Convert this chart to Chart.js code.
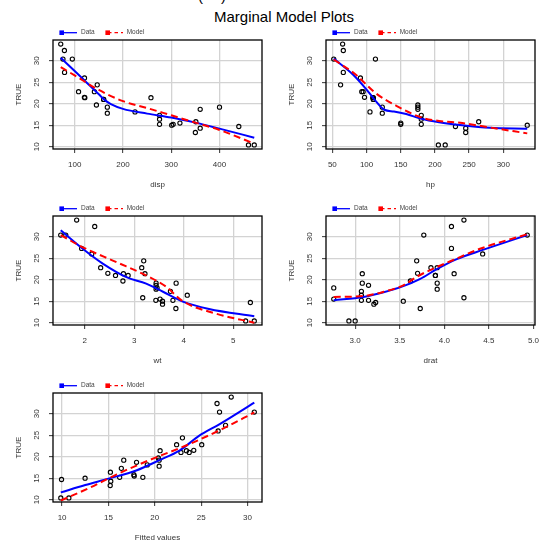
<!DOCTYPE html>
<html>
<head>
<meta charset="utf-8">
<script src="https://cdn.jsdelivr.net/npm/chart.js@4"></script>
<style>
  html, body { margin: 0; padding: 0; background: #fff; overflow: hidden; }
  body { position: relative; width: 542px; height: 545px; font-family: "Liberation Sans", Arial, sans-serif; }
  canvas { position: absolute; }
  .title { position: absolute; font-size: 15px; line-height: 15px; color: #000; white-space: nowrap; }
</style>
</head>
<body>
<div class="title" style="left:198px; top:-12px">(</div>
<div class="title" style="left:221px; top:-12px">)</div>
<div class="title" style="left:184px; top:9px; width:200px; text-align:center">Marginal Model Plots</div>

<canvas id="pDisp" width="271" height="175" style="left:0; top:25px"></canvas>
<canvas id="pHp" width="271" height="175" style="left:273px; top:25px"></canvas>
<canvas id="pWt" width="271" height="175" style="left:0; top:201px"></canvas>
<canvas id="pDrat" width="271" height="175" style="left:273px; top:201px"></canvas>
<canvas id="pFit" width="271" height="175" style="left:0; top:378px"></canvas>

<script>
// response (mpg) and predictors, one entry per car
const mpg = [21.0, 21.0, 22.8, 21.4, 18.7, 18.1, 14.3, 24.4, 22.8, 19.2, 17.8, 16.4, 17.3, 15.2, 10.4, 10.4,
    14.7, 32.4, 30.4, 33.9, 21.5, 15.5, 15.2, 13.3, 19.2, 27.3, 26.0, 30.4, 15.8, 19.7, 15.0, 21.4]
const disp = [160, 160, 108, 258, 360, 225, 360, 146.7, 140.8, 167.6, 167.6, 275.8, 275.8, 275.8, 472, 460,
    440, 78.7, 75.7, 71.1, 120.1, 318, 304, 350, 400, 79, 120.3, 95.1, 351, 145, 301, 121]
const hp = [110, 110, 93, 110, 175, 105, 245, 62, 95, 123, 123, 180, 180, 180, 205, 215,
    230, 66, 52, 65, 97, 150, 150, 245, 175, 66, 91, 113, 264, 175, 335, 109]
const wt = [2.62, 2.875, 2.32, 3.215, 3.44, 3.46, 3.57, 3.19, 3.15, 3.44, 3.44, 4.07, 3.73, 3.78, 5.25, 5.424,
    5.345, 2.2, 1.615, 1.835, 2.465, 3.52, 3.435, 3.84, 3.845, 1.935, 2.14, 1.513, 3.17, 2.77, 3.57, 2.78]
const drat = [3.9, 3.9, 3.85, 3.08, 3.15, 2.76, 3.21, 3.69, 3.92, 3.92, 3.92, 3.07, 3.07, 3.07, 2.93, 3.0,
    3.23, 4.08, 4.93, 4.22, 3.7, 2.76, 3.15, 3.73, 3.08, 4.08, 4.43, 3.77, 4.22, 3.62, 3.54, 4.11]
const fitted = [23.71, 22.82, 25.06, 20.57, 18.03, 19.19, 15.25, 22.98, 22.35, 20.47, 20.47, 15.21, 16.39, 16.21, 10.73, 9.86,
    9.94, 26.71, 30.73, 28.24, 24.20, 17.78, 18.71, 15.19, 16.65, 27.63, 26.83, 26.98, 17.74, 20.38, 12.48, 23.41]

// smoothers: "Data" (blue) and "Model" (red dashed) for each panel
const dispDataX = [71.1, 100, 125, 150, 162, 175, 200, 250, 300, 350, 400, 472]
const dispDataY = [30.7, 27.6, 24.9, 22.2, 20.9, 19.9, 18.8, 17.7, 16.8, 15.6, 14.2, 12.1]
const dispModelX = [71.1, 100, 150, 200, 250, 300, 350, 400, 472]
const dispModelY = [28.5, 26.6, 23.2, 20.6, 19.0, 17.3, 15.6, 13.9, 10.7]

const hpDataX = [52, 80, 100, 112, 126, 140, 158, 180, 206, 240, 280, 335]
const hpDataY = [30.5, 26.8, 23.3, 20.9, 18.6, 18.2, 17.6, 16.5, 15.7, 15.0, 14.4, 14.2]
const hpModelX = [52, 84, 113, 145, 182, 206, 240, 279, 335]
const hpModelY = [30.3, 26.8, 22.5, 19.4, 16.7, 16.0, 15.5, 14.5, 13.1]

const wtDataX = [1.513, 1.97, 2.37, 2.84, 3.24, 3.58, 3.98, 4.51, 5.424]
const wtDataY = [31.5, 27.1, 23.7, 20.6, 19.1, 17.2, 14.9, 13.2, 11.5]
const wtModelX = [1.513, 1.97, 2.64, 3.31, 3.64, 3.98, 4.65, 5.424]
const wtModelY = [30.4, 27.5, 24.1, 20.6, 18.4, 15.0, 12.1, 10.0]

const dratDataX = [2.76, 3.09, 3.32, 3.54, 3.73, 3.91, 4.14, 4.44, 4.93]
const dratDataY = [15.2, 16.0, 17.1, 18.5, 20.2, 22.4, 24.8, 27.0, 30.4]
const dratModelX = [2.76, 3.09, 3.32, 3.54, 3.7, 3.9, 4.1, 4.4, 4.93]
const dratModelY = [16.0, 16.2, 17.2, 18.7, 20.8, 22.8, 24.6, 27.2, 30.6]

const fitDataX = [9.86, 12.5, 15.0, 18.0, 20.5, 22.7, 24.8, 27.0, 30.73]
const fitDataY = [11.7, 13.4, 14.9, 16.8, 19.2, 21.5, 24.9, 27.6, 32.6]
const fitModelX = [9.86, 13.0, 15.9, 19.4, 23.7, 27.3, 30.73]
const fitModelY = [9.8, 12.8, 15.9, 19.2, 22.9, 26.5, 30.3]

// tick positions and labels
const yTicks = [10, 15, 20, 25, 30]
const dispTicks = [100, 200, 300, 400]
const hpTicks = [50, 100, 150, 200, 250, 300]
const wtTicks = [2, 3, 4, 5]
const dratTicks = [3.0, 3.5, 4.0, 4.5, 5.0]
const dratTickLabels = ["3.0", "3.5", "4.0", "4.5", "5.0"]
const fitTicks = [10, 15, 20, 25, 30]

const FONT = "'Liberation Sans', Arial, sans-serif"
Chart.defaults.font.family = FONT

const toPoints = (xs, ys) => xs.map((x, i) => ({ x: x, y: ys[i] }))

// frame, rotated y tick labels and the small legend above each panel
const framePlugin = {
    id: "frame",
    afterDraw(chart) {
        const { ctx, chartArea: a } = chart
        const yScale = chart.scales.y
        ctx.save()
        ctx.strokeStyle = "#000"
        ctx.lineWidth = 1.3
        ctx.strokeRect(a.left, a.top, a.right - a.left, a.bottom - a.top)

        ctx.fillStyle = "#333"
        ctx.font = `8px ${FONT}`
        ctx.textAlign = "center"
        ctx.textBaseline = "middle"
        yScale.ticks.forEach((t) => {
            ctx.save()
            ctx.translate(a.left - 16, yScale.getPixelForValue(t.value))
            ctx.rotate(-Math.PI / 2)
            ctx.fillText(String(t.value), 0, 0)
            ctx.restore()
        })

        const ly = a.top - 7.3
        ctx.font = `6.5px ${FONT}`
        ctx.textAlign = "left"
        // Data
        ctx.fillStyle = "#0000ff"
        ctx.fillRect(a.left + 6.4, ly - 2.3, 4.6, 4.6)
        ctx.strokeStyle = "#0000ff"
        ctx.lineWidth = 1.3
        ctx.beginPath()
        ctx.moveTo(a.left + 9, ly)
        ctx.lineTo(a.left + 24, ly)
        ctx.stroke()
        ctx.fillStyle = "#444"
        ctx.fillText("Data", a.left + 28, ly)
        // Model
        ctx.fillStyle = "#ff0000"
        ctx.fillRect(a.left + 52.4, ly - 2.3, 4.6, 4.6)
        ctx.strokeStyle = "#ff0000"
        ctx.setLineDash([3.5, 3])
        ctx.beginPath()
        ctx.moveTo(a.left + 55, ly)
        ctx.lineTo(a.left + 70, ly)
        ctx.stroke()
        ctx.setLineDash([])
        ctx.fillStyle = "#444"
        ctx.fillText("Model", a.left + 73.7, ly)
        ctx.restore()
    },
}

const makePanel = (id, cfg) => {
    const ctx = document.getElementById(id).getContext("2d")
    return new Chart(ctx, {
        type: "scatter",
        data: {
            datasets: [
                {
                    label: "Model",
                    data: toPoints(cfg.modelX, cfg.modelY),
                    showLine: true,
                    borderColor: "#ff0000",
                    borderWidth: 2,
                    borderDash: [7, 4],
                    pointRadius: 0,
                    cubicInterpolationMode: "monotone",
                },
                {
                    label: "Data",
                    data: toPoints(cfg.dataX, cfg.dataY),
                    showLine: true,
                    borderColor: "#0000ff",
                    borderWidth: 2,
                    pointRadius: 0,
                    cubicInterpolationMode: "monotone",
                },
                {
                    label: "mpg",
                    data: toPoints(cfg.x, mpg),
                    pointRadius: 2.1,
                    pointBorderWidth: 1.1,
                    pointBorderColor: "#000",
                    pointBackgroundColor: "rgba(0,0,0,0)",
                },
            ],
        },
        options: {
            responsive: false,
            animation: false,
            events: [],
            layout: { padding: { left: 0, top: 15, right: 9, bottom: 0 } },
            plugins: { legend: { display: false }, tooltip: { enabled: false } },
            scales: {
                x: {
                    type: "linear",
                    min: cfg.xMin,
                    max: cfg.xMax,
                    afterBuildTicks: (s) => { s.ticks = cfg.xTicks.map((v) => ({ value: v })) },
                    afterFit: (s) => { s.height = 51; s.paddingLeft = 0; s.paddingRight = 0 },
                    ticks: {
                        color: "#333",
                        font: { size: 8 },
                        padding: 7,
                        maxRotation: 0,
                        autoSkip: false,
                        callback: (v, i) => (cfg.xLabels ? cfg.xLabels[i] : String(v)),
                    },
                    grid: { color: "#d3d3d3", lineWidth: 1.3, tickColor: "#333", tickLength: 4, tickWidth: 1 },
                    border: { display: false },
                    title: {
                        display: true,
                        text: cfg.xTitle,
                        color: "#333",
                        font: { size: 8 },
                        padding: { top: 0, bottom: 10.2 },
                    },
                },
                y: {
                    type: "linear",
                    min: 9.46,
                    max: 34.84,
                    afterBuildTicks: (s) => { s.ticks = yTicks.map((v) => ({ value: v })) },
                    afterFit: (s) => { s.width = 53; s.paddingTop = 0; s.paddingBottom = 0 },
                    ticks: { display: false },
                    grid: { color: "#d3d3d3", lineWidth: 1.3, tickColor: "#333", tickLength: 4, tickWidth: 1 },
                    border: { display: false },
                    title: {
                        display: true,
                        text: "TRUE",
                        color: "#333",
                        font: { size: 8 },
                        padding: { top: 13.5, bottom: 0 },
                    },
                },
            },
        },
        plugins: [framePlugin],
    })
}

makePanel("pDisp", {
    x: disp, xMin: 55.06, xMax: 488.04, xTicks: dispTicks, xTitle: "disp",
    dataX: dispDataX, dataY: dispDataY, modelX: dispModelX, modelY: dispModelY,
})
makePanel("pHp", {
    x: hp, xMin: 40.68, xMax: 346.32, xTicks: hpTicks, xTitle: "hp",
    dataX: hpDataX, dataY: hpDataY, modelX: hpModelX, modelY: hpModelY,
})
makePanel("pWt", {
    x: wt, xMin: 1.357, xMax: 5.58, xTicks: wtTicks, xTitle: "wt",
    dataX: wtDataX, dataY: wtDataY, modelX: wtModelX, modelY: wtModelY,
})
makePanel("pDrat", {
    x: drat, xMin: 2.673, xMax: 5.017, xTicks: dratTicks, xLabels: dratTickLabels, xTitle: "drat",
    dataX: dratDataX, dataY: dratDataY, modelX: dratModelX, modelY: dratModelY,
})
makePanel("pFit", {
    x: fitted, xMin: 9.02, xMax: 31.56, xTicks: fitTicks, xTitle: "Fitted values",
    dataX: fitDataX, dataY: fitDataY, modelX: fitModelX, modelY: fitModelY,
})
</script>
</body>
</html>
